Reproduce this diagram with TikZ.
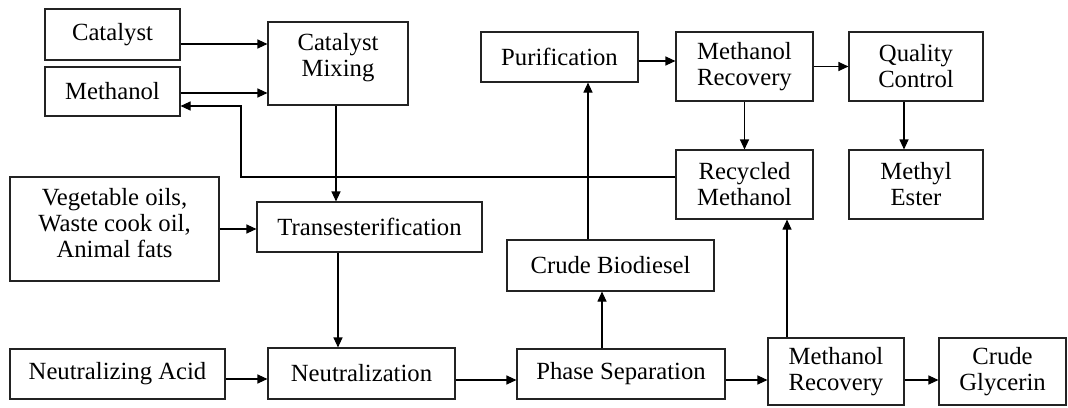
\documentclass[tikz,border=0pt]{standalone}
\usepackage{fontspec}
\setmainfont{Liberation Serif}
\usetikzlibrary{arrows.meta,calc}
\definecolor{ink}{RGB}{35,35,35}
\tikzset{
  blk/.style 2 args={
    draw=ink, line width=1.1pt,
    minimum width=#1pt, minimum height=#2pt,
    align=center, font=\fontsize{24.7}{26}\selectfont, inner sep=0pt,
  },
  flow/.style={-{Triangle[length=10pt,width=9pt]}, line width=1.1pt, draw=black},
}
\begin{document}
\begin{tikzpicture}[x=1pt,y=-1pt]
  \useasboundingbox (0,0) rectangle (1068,407);

  % Feed nodes
  \node[blk={135}{51}] (cat) at (112.5,34.5) {Catalyst};
  \node[blk={135}{49}] (meth) at (112.5,91.5) {Methanol};
  \node[blk={209}{104}, text depth=12pt] (veg) at (114.5,229) {Vegetable oils,\\Waste cook oil,\\Animal fats};
  \node[blk={215}{50}] (acid) at (117.5,374) {Neutralizing Acid};

  % Process nodes
  \node[blk={140}{83}, text depth=17pt] (mix) at (338,63.5) {Catalyst\\Mixing};
  \node[blk={225}{50}] (trans) at (369.5,227) {Transesterification};
  \node[blk={187}{51}] (neutr) at (361.5,373.5) {Neutralization};
  \node[blk={208}{50}] (phase) at (621,374) {Phase Separation};
  \node[blk={207}{51}] (bio) at (610.5,265.5) {Crude Biodiesel};
  \node[blk={157}{50}] (purif) at (559.5,57) {Purification};
  \node[blk={137}{69}] (mrt) at (744.5,66.5) {Methanol\\Recovery};
  \node[blk={134}{69}] (qc) at (916,66.5) {Quality\\Control};
  \node[blk={137}{69}] (rec) at (744.5,184.5) {Recycled\\Methanol};
  \node[blk={134}{69}] (ester) at (916,184.5) {Methyl\\Ester};
  \node[blk={136}{67}] (mrb) at (836,371.5) {Methanol\\Recovery};
  \node[blk={127}{67}] (gly) at (1002.5,371.5) {Crude\\Glycerin};

  % Main flow
  \draw[flow] ([yshift=-9.5pt]cat.east) -- ([yshift=-9.5pt]cat.east -| mix.west);
  \draw[flow] ([yshift=-1.5pt]meth.east) -- ([yshift=-1.5pt]meth.east -| mix.west);
  \draw[flow] ([xshift=-2pt]mix.south) -- ([xshift=-2pt]mix.south |- trans.north);
  \draw[flow] (veg.east) -- (veg.east -| trans.west);
  \draw[flow] ([xshift=-31.5pt]trans.south) -- ([xshift=-31.5pt]trans.south |- neutr.north);
  \draw[flow] ([yshift=-5pt]acid.east) -- ([yshift=-5pt]acid.east -| neutr.west);
  \draw[flow] ([yshift=-6.5pt]neutr.east) -- ([yshift=-6.5pt]neutr.east -| phase.west);
  \draw[flow] ([xshift=-19pt]phase.north) -- ([xshift=-19pt]phase.north |- bio.south);
  \draw[flow] ([xshift=-22.5pt]bio.north) -- ([xshift=-22.5pt]bio.north |- purif.south);
  \draw[flow] ([yshift=-4pt]purif.east) -- ([yshift=-4pt]purif.east -| mrt.west);
  \draw[flow] (mrt.east) -- (qc.west);
  \draw[flow] (mrt.south) -- (rec.north);
  \draw[flow] ([xshift=-12pt]qc.south) -- ([xshift=-12pt]ester.north);

  % Glycerin side
  \draw[flow] ([yshift=-6pt]phase.east) -- ([yshift=-6pt]phase.east -| mrb.west);
  \draw[flow] ([xshift=-49pt]mrb.north) -- ([xshift=-49pt]mrb.north |- rec.south);
  \draw[flow] ([yshift=-8.5pt]mrb.east) -- ([yshift=-8.5pt]gly.west);

  % Methanol recycle loop
  \coordinate (loop) at (241,177);
  \draw[flow] ([yshift=7.5pt]rec.west) -- (loop) |- ([yshift=-14.5pt]meth.east);
\end{tikzpicture}
\end{document}
